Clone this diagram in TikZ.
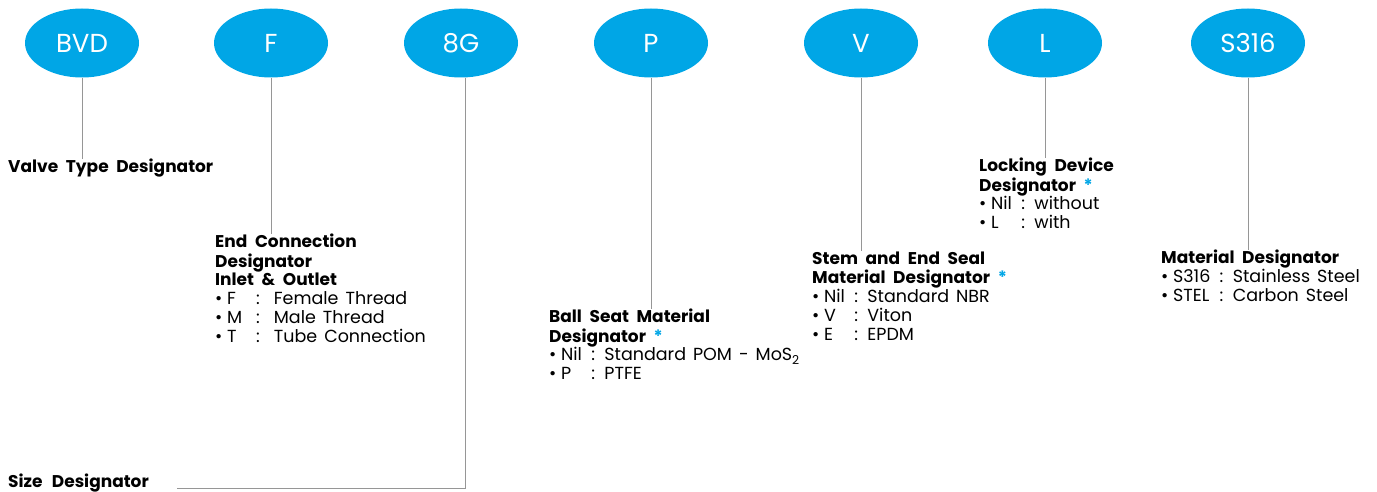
\documentclass[tikz,border=0pt]{standalone}
\usepackage{fontspec}
\setmainfont{Poppins}
\usetikzlibrary{shapes.geometric,positioning}
\definecolor{badgeblue}{RGB}{0,166,230}
\definecolor{leadgray}{RGB}{150,150,150}
\newcommand{\wide}[1]{\spaceskip=#1\relax}
\newcommand{\hd}[1]{\multicolumn{3}{@{}l@{}}{\fontsize{17}{18.7}\selectfont\bfseries\wide{.45em}#1}}
\newcommand{\opt}{\textcolor{badgeblue}{*}}
\newcommand{\itm}{\textbullet}
\tikzset{
  badge/.style={ellipse,fill=badgeblue,minimum width=114,minimum height=69,inner sep=0pt,
    text=white,font=\fontsize{26}{26}\selectfont},
  desc/.style={anchor=north west,inner sep=0pt,font=\fontsize{17.5}{18.7}\selectfont},
  lead/.style={draw=leadgray,line width=.9pt}
}
\begin{document}
\begin{tikzpicture}[x=1pt,y=-1pt]
  \useasboundingbox[fill=white] (0,0) rectangle (1377,492);
  % code letters
  \node[badge] (bvd)  at (82,43)   {BVD};
  \node[badge] (fit)  at (271,43)  {F};
  \node[badge] (size) at (461,43)  {8G};
  \node[badge] (seat) at (651,43)  {P};
  \node[badge] (stem) at (861,43)  {V};
  \node[badge] (lock) at (1045,43) {L};
  \node[badge] (mat)  at (1248,43) {S316};
  % descriptions
  \node[desc] (tvalve) at (8,159) {\begin{tabular}{@{}l@{}}\fontsize{17}{18.7}\selectfont\bfseries\wide{.45em}Valve Type Designator\end{tabular}};
  \node[desc] (tfit) at (215,234) {\begin{tabular}{@{}l@{\ }l@{\ \ \ :\ \ \ }l@{}}
    \hd{End Connection}\\ \hd{Designator}\\ \hd{Inlet \& Outlet}\\
    \itm & F & \wide{.4em}Female Thread\\ \itm & M & \wide{.4em}Male Thread\\ \itm & T & \wide{.4em}Tube Connection
    \end{tabular}};
  \node[desc] (tseat) at (549,309) {\begin{tabular}{@{}l@{\ }l@{\ \ :\ \ }l@{}}
    \hd{Ball Seat Material}\\ \hd{Designator \opt}\\
    \itm & Nil & \wide{.4em}Standard POM - MoS\textsubscript{2}\\ \itm & P & PTFE
    \end{tabular}};
  \node[desc] (tstem) at (812,251) {\begin{tabular}{@{}l@{\ }l@{\ \ :\ \ }l@{}}
    \hd{Stem and End Seal}\\ \hd{Material Designator \opt}\\
    \itm & Nil & \wide{.4em}Standard NBR\\ \itm & V & Viton\\ \itm & E & EPDM
    \end{tabular}};
  \node[desc] (tlock) at (979,158) {\begin{tabular}{@{}l@{\ }l@{\ \ :\ \ }l@{}}
    \hd{Locking Device}\\ \hd{Designator \opt}\\
    \itm & Nil & without\\ \itm & L & with
    \end{tabular}};
  \node[desc] (tmat) at (1161,250) {\begin{tabular}{@{}l@{\ }l@{\ \ :\ \ }l@{}}
    \hd{Material Designator}\\
    \itm & S316 & \wide{.4em}Stainless Steel\\ \itm & STEL & \wide{.4em}Carbon Steel
    \end{tabular}};
  \node[desc,anchor=south west] (tsize) at (8,493) {\begin{tabular}{@{}l@{}}\fontsize{17}{18.7}\selectfont\bfseries\wide{.55em}Size Designator\end{tabular}};
  % leaders
  \draw[lead] (bvd.south) -- (bvd.south |- tvalve.north);
  \draw[lead] (fit.south) -- (fit.south |- tfit.north);
  \draw[lead] (seat.south) -- (seat.south |- tseat.north);
  \draw[lead] (stem.south) -- (stem.south |- tstem.north);
  \draw[lead] (lock.south) -- (lock.south |- tlock.north);
  \draw[lead] (mat.south) -- (mat.south |- tmat.north);
  \draw[lead] ([xshift=4]size.south) |- ([xshift=28,yshift=-5]tsize.east);
\end{tikzpicture}
\end{document}
